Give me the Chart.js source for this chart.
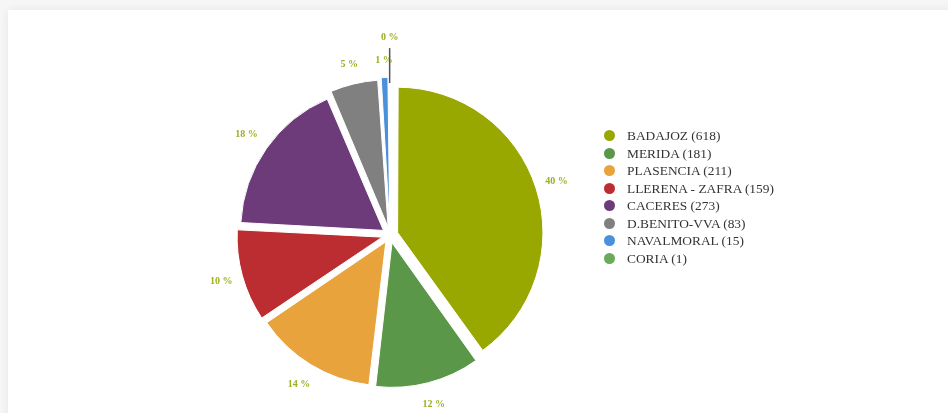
<!DOCTYPE html>
<html>
<head>
<meta charset="utf-8">
<script src="https://cdn.jsdelivr.net/npm/chart.js@4"></script>
<style>
  html, body { margin: 0; padding: 0; width: 948px; height: 413px; overflow: hidden; background: #f6f6f6; }
  .card { position: absolute; left: 8px; top: 10px; width: 980px; height: 440px; background: #fff;
          box-shadow: 0 0 9px rgba(0,0,0,0.07); }
  #chartWrap { position: absolute; left: 0; top: 0; width: 948px; height: 413px; }
  #legend { position: absolute; left: 604px; top: 127px; margin: 0; padding: 0; list-style: none;
            font-family: "Liberation Serif", serif; font-size: 13.4px; color: #333; }
  #legend li { height: 17.57px; line-height: 17.57px; white-space: nowrap; }
  #legend span { display: inline-block; width: 11px; height: 11px; border-radius: 50%;
                 vertical-align: -1px; margin-right: 12px; }
</style>
</head>
<body>
<div class="card"></div>
<div id="chartWrap"><canvas id="zonesChart" width="948" height="413"></canvas></div>
<ul id="legend"></ul>
<script>
const zones = ["BADAJOZ", "MERIDA", "PLASENCIA", "LLERENA - ZAFRA", "CACERES", "D.BENITO-VVA", "NAVALMORAL", "CORIA"];
const counts = [618, 181, 211, 159, 273, 83, 15, 1];
const colors = ["#99a800", "#5b9748", "#e8a33c", "#bb2d30", "#6e3b7a", "#808080", "#4a90da", "#6aaa5a"];

const total = counts.reduce((a, b) => a + b, 0);

// legend built from the same arrays
const legend = document.getElementById("legend");
zones.forEach((z, i) => {
  const li = document.createElement("li");
  li.innerHTML = `<span style="background:${colors[i]}"></span>${z} (${counts[i]})`;
  legend.appendChild(li);
});

// percentage labels outside each slice, pushed up with a leader line when they collide
const pctLabels = {
  id: "pctLabels",
  afterDatasetsDraw(chart) {
    const ctx = chart.ctx;
    const arcs = chart.getDatasetMeta(0).data;
    const placed = [];
    ctx.save();
    ctx.font = "bold 10px 'Liberation Serif', serif";
    ctx.fillStyle = "#9fae22";
    ctx.textAlign = "center";
    ctx.textBaseline = "middle";
    arcs.forEach((arc, i) => {
      const mid = (arc.startAngle + arc.endAngle) / 2;
      const r = arc.outerRadius + 33;
      let x = arc.x + Math.cos(mid) * r;
      let y = arc.y + Math.sin(mid) * r;
      const text = Math.round(counts[i] / total * 100) + " %";
      const w = ctx.measureText(text).width;
      let leader = false;
      for (const p of placed) {
        if (Math.abs(p.x - x) < (p.w + w) / 2 && Math.abs(p.y - y) < 12) {
          y = p.y - 23;
          leader = true;
        }
      }
      if (leader) {
        const edge = arc.outerRadius + 10;
        ctx.save();
        ctx.strokeStyle = "#555";
        ctx.lineWidth = 1.5;
        ctx.beginPath();
        ctx.moveTo(x, arc.y + Math.sin(mid) * edge);
        ctx.lineTo(x, y + 11);
        ctx.stroke();
        ctx.restore();
      }
      ctx.fillText(text, x, y);
      placed.push({ x, y, w });
    });
    ctx.restore();
  }
};

new Chart(document.getElementById("zonesChart"), {
  type: "pie",
  data: {
    labels: zones,
    datasets: [{
      data: counts,
      backgroundColor: colors,
      borderColor: "#fff",
      borderWidth: 1,
      offset: 32
    }]
  },
  options: {
    responsive: false,
    animation: false,
    radius: 142,
    layout: { padding: { left: 50, right: 218, top: 67, bottom: 10 } },
    plugins: {
      legend: { display: false },
      tooltip: { enabled: false }
    }
  },
  plugins: [pctLabels]
});
</script>
</body>
</html>
